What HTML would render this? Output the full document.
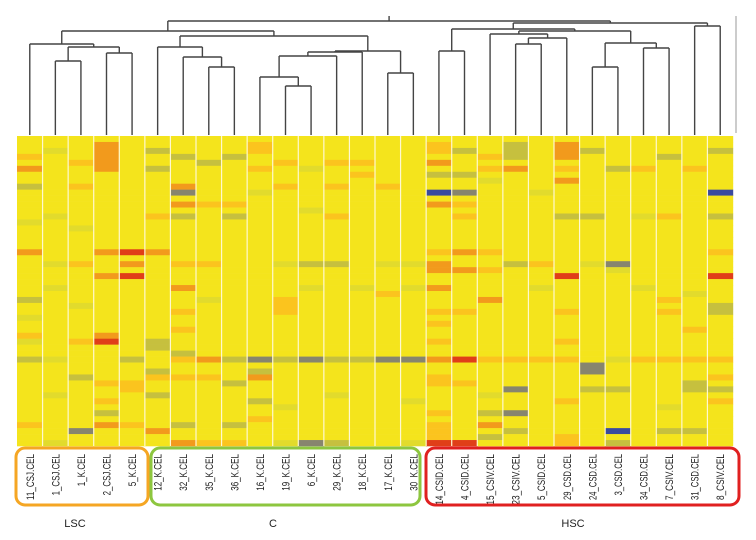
<!DOCTYPE html>
<html><head><meta charset="utf-8"><style>
html,body{margin:0;padding:0;background:#fff;}
svg{display:block;font-family:"Liberation Sans",sans-serif;}
</style></head><body>
<svg id="chart" width="756" height="540" viewBox="0 0 756 540" xmlns="http://www.w3.org/2000/svg">
<g id="dendro"></g>
<g id="heat"></g>
<g id="labels"></g>
<rect x="16" y="448" width="132" height="57" rx="9" fill="none" stroke="#f5a623" stroke-width="3"/>
<rect x="151" y="448" width="269" height="57" rx="9" fill="none" stroke="#8dc63f" stroke-width="3"/>
<rect x="426" y="448" width="313" height="57" rx="9" fill="none" stroke="#e02020" stroke-width="3"/>
<text x="75" y="527" font-size="11" text-anchor="middle" fill="#222">LSC</text>
<text x="273" y="527" font-size="11" text-anchor="middle" fill="#222">C</text>
<text x="573" y="527" font-size="11" text-anchor="middle" fill="#222">HSC</text>
<line x1="736" y1="16" x2="736" y2="133" stroke="#bbb" stroke-width="1.5"/>
</svg>
<script>
const columns = ["11_CSJ.CEL","1_CSJ.CEL","1_K.CEL","2_CSJ.CEL","5_K.CEL","12_K.CEL","32_K.CEL","35_K.CEL","36_K.CEL","16_K.CEL","19_K.CEL","6_K.CEL","29_K.CEL","18_K.CEL","17_K.CEL","30_K.CEL","14_CSID.CEL","4_CSID.CEL","15_CSIV.CEL","23_CSIV.CEL","5_CSID.CEL","29_CSD.CEL","24_CSD.CEL","3_CSD.CEL","34_CSD.CEL","7_CSIV.CEL","31_CSD.CEL","8_CSIV.CEL"];
const nRows = 52;
// per-column notable cells "row:level" (y base yellow, l light, g olive, G grey, o light orange, O orange, r red, b blue)
const cells = [
"3o 5O 8g 19O 27g 33o 34l 37g 48o 14l 30l",
"13l 21l 37l 43l 51l 2l 25l",
"4o 8o 21o 34o 40g 49G 15l 28l",
"1O 2O 3O 4O 5O 19O 23O 33O 34r 41o 44o 46g 48O",
"19r 21O 23r 37g 41o 42o 48o",
"2g 5g 13o 19O 34g 35g 39g 40o 43g 49O",
"3g 8O 9G 11O 13g 21o 25O 29o 32o 36g 37o 40o 48g 51O",
"4g 11o 21o 37O 40o 51o 27l",
"3g 11o 13g 37g 41g 48g 51o",
"1o 2o 5o 9l 37G 39g 40O 44g 47o",
"4o 8o 21l 27o 28o 29o 37g 45l 51l",
"5l 12l 21g 37G 51G 25l",
"4o 8o 13o 21g 37g 43l 51g",
"4o 6o 37g 25l",
"8o 26o 37G 21l",
"21l 25l 37G 44l 51l",
"1o 2o 4O 6g 9b 11O 19o 21O 22O 25O 29o 31o 34o 37O 40o 41o 46o 48o 49o 50o 51r",
"2g 6g 9G 11o 13o 19O 22O 29o 37r 41o 51r",
"3o 5o 7l 19o 22o 27O 37o 43l 46g 48O 50g",
"1g 2g 3g 5O 21g 37o 42G 46G 49g",
"9l 21o 37o 25l",
"1O 2O 3O 5o 7O 13g 23r 29o 34o 37o 44o 50o 51o",
"2g 13g 21l 38G 39G 42g",
"5g 21G 22l 37l 42g 49b 51g",
"5o 13l 25l 37o",
"3g 13o 27o 29o 37o 45l 49g",
"5o 26l 32o 37o 41g 42g 49g",
"2g 9b 13g 19o 23r 28g 29g 37o 40o 42g 44o"
];
// dendrogram merges: [leftNode, rightNode, height(y px)] ; nodes: leaf index or "n#" merge index
const merges = [
[1,2,61],[3,4,53],["n0","n1",47],[0,"n2",44],
[7,8,67],[6,"n4",57],[5,"n5",47],
[10,11,86],[9,"n7",77],["n8",12,56],["n9",13,52],[14,15,73],["n10","n11",51],["n6","n12",36],
["n3","n13",31],
[16,17,51],[19,20,44],["n16",21,38],[18,"n17",34],[22,23,67],[24,25,48],["n19","n20",43],["n18","n21",31],["n15","n22",29],
[26,27,26],["n23","n24",23],["n14","n25",21]
];
const colors = {y:"#f4e41c",l:"#e2db2c",g:"#c6c03e",G:"#87856e",o:"#fbc41e",O:"#f29a1c",r:"#e03e18",b:"#3a4a9e"};
const X0=17, X1=733, Y0=136, Y1=446, LEAF_BOTTOM=135;
const colW=(X1-X0)/columns.length, rowH=(Y1-Y0)/nRows;
const xScale=i=>X0+colW*i;
const yScale=r=>Y0+rowH*r;
const NS="http://www.w3.org/2000/svg";
const heat=document.getElementById('heat');
columns.forEach((c,ci)=>{
  const map={};
  cells[ci].split(' ').forEach(t=>{const m=t.match(/^(\d+)(\w)$/); if(m) map[+m[1]]=m[2];});
  for(let r=0;r<nRows;r++){
    const el=document.createElementNS(NS,'rect');
    
    
    el.setAttribute('x',xScale(ci)); el.setAttribute('y',yScale(r));
    el.setAttribute('width',colW+0.2); el.setAttribute('height',rowH+0.3);
    el.setAttribute('fill',colors[map[r]||'y']);
    heat.appendChild(el);
  }
});
for(let ci=1;ci<columns.length;ci++){
  const el=document.createElementNS(NS,'line');
  
  
  el.setAttribute('x1',xScale(ci)); el.setAttribute('x2',xScale(ci));
  el.setAttribute('y1',Y0); el.setAttribute('y2',Y1);
  el.setAttribute('stroke','#fff8d0'); el.setAttribute('stroke-width','1.2');
  heat.appendChild(el);
}
const lab=document.getElementById('labels');
columns.forEach((c,ci)=>{
  const cx=xScale(ci+0.5);
  const t=document.createElementNS(NS,'text');
  
  
  t.setAttribute('transform',`translate(${cx+4},454) rotate(-90)`);
  t.setAttribute('text-anchor','end'); t.setAttribute('font-size','11');
  t.setAttribute('fill','#222');
  t.setAttribute('textLength',(c.length*4.6).toFixed(1)); t.setAttribute('lengthAdjust','spacingAndGlyphs');
  t.textContent=c; lab.appendChild(t);
});
const dg=document.getElementById('dendro');
const nodes=[];
function pos(n){ if(typeof n==='number') return {x:xScale(n+0.5),y:LEAF_BOTTOM}; return nodes[+n.slice(1)]; }
function line(x1,y1,x2,y2,name){
  const el=document.createElementNS(NS,'line');
  
  
  el.setAttribute('x1',x1);el.setAttribute('y1',y1);el.setAttribute('x2',x2);el.setAttribute('y2',y2);
  el.setAttribute('stroke','#444'); el.setAttribute('stroke-width','1.4');
  dg.appendChild(el);
}
merges.forEach(m=>{
  const a=pos(m[0]), b=pos(m[1]), h=m[2];
  line(a.x,a.y,a.x,h,'dendrogram-branch');
  line(b.x,b.y,b.x,h,'dendrogram-branch');
  line(a.x,h,b.x,h,'dendrogram-link');
  nodes.push({x:(a.x+b.x)/2,y:h});
});
const root=nodes[nodes.length-1];
line(root.x,root.y,root.x,16,'dendrogram-root');
</script>
</body></html>
